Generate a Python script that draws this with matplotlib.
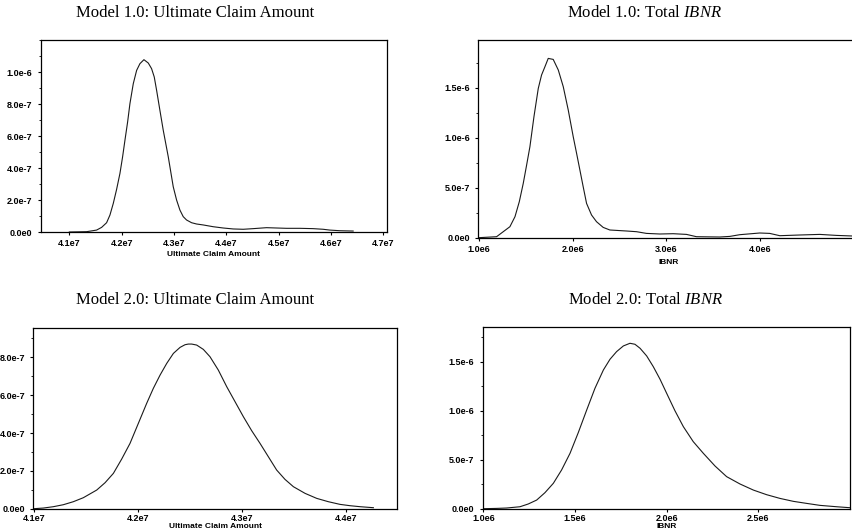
import matplotlib
matplotlib.use("Agg")
import matplotlib.pyplot as plt
from matplotlib.font_manager import FontProperties
from matplotlib.ticker import FuncFormatter, AutoMinorLocator
import math

plt.rcParams["mathtext.fontset"] = "custom"
plt.rcParams["mathtext.rm"] = "Liberation Serif"
plt.rcParams["mathtext.it"] = "Liberation Serif:italic"

# x in units of 1e6, y in units of 1e-6 (density)
# Model 1.0: Ultimate Claim Amount
m1_ult_x = [41.000, 41.331, 41.522, 41.618, 41.713, 41.777, 41.841, 41.904, 41.968, 42.019,
            42.064, 42.115, 42.159, 42.223, 42.287, 42.350, 42.427, 42.510, 42.573, 42.624,
            42.669, 42.732, 42.796, 42.892, 42.987, 43.051, 43.115, 43.178, 43.242, 43.338,
            43.433, 43.561, 43.752, 43.943, 44.134, 44.325, 44.516, 44.771, 44.962, 45.153,
            45.408, 45.662, 45.854, 45.981, 46.172, 46.427]
m1_ult_y = [0.0, 0.002, 0.012, 0.029, 0.058, 0.106, 0.179, 0.266, 0.366, 0.470,
            0.574, 0.688, 0.802, 0.927, 1.010, 1.052, 1.077, 1.056, 1.021, 0.969,
            0.886, 0.761, 0.636, 0.470, 0.283, 0.200, 0.137, 0.096, 0.075, 0.058,
            0.050, 0.044, 0.033, 0.025, 0.019, 0.017, 0.021, 0.027, 0.025, 0.023,
            0.023, 0.021, 0.017, 0.012, 0.008, 0.006]

# Model 1.0: Total IBNR
m1_ibnr_x = [1.000, 1.191, 1.262, 1.333, 1.387, 1.433, 1.475, 1.511, 1.546, 1.589,
             1.635, 1.670, 1.706, 1.741, 1.794, 1.848, 1.901, 1.954, 2.007, 2.043,
             2.078, 2.113, 2.149, 2.202, 2.255, 2.326, 2.397, 2.574, 2.681, 2.787,
             2.929, 3.071, 3.213, 3.319, 3.567, 3.674, 3.780, 3.993, 4.099, 4.206,
             4.418, 4.631, 4.809, 4.982, 5.060]
m1_ibnr_y = [0.0, 0.010, 0.060, 0.110, 0.210, 0.360, 0.543, 0.727, 0.910, 1.210,
             1.493, 1.627, 1.710, 1.793, 1.783, 1.677, 1.510, 1.277, 1.010, 0.843,
             0.677, 0.510, 0.343, 0.227, 0.160, 0.103, 0.077, 0.067, 0.060, 0.043,
             0.037, 0.040, 0.033, 0.010, 0.007, 0.013, 0.030, 0.047, 0.043, 0.020,
             0.027, 0.033, 0.023, 0.017, 0.016]

# Model 2.0: Ultimate Claim Amount
m2_ult_x = [41.000, 41.090, 41.186, 41.282, 41.378, 41.474, 41.603, 41.683, 41.763, 41.843,
            41.923, 42.003, 42.083, 42.147, 42.212, 42.276, 42.340, 42.404, 42.452, 42.484,
            42.516, 42.564, 42.628, 42.692, 42.772, 42.853, 42.933, 43.013, 43.093, 43.173,
            43.253, 43.333, 43.413, 43.494, 43.606, 43.718, 43.830, 43.942, 44.038, 44.135,
            44.263]
m2_ult_y = [0.0, 0.0035, 0.0106, 0.0211, 0.0370, 0.0581, 0.0987, 0.1374, 0.1868, 0.2626,
            0.3454, 0.4511, 0.5568, 0.6361, 0.7066, 0.7683, 0.8211, 0.8529, 0.8670, 0.8705,
            0.8705, 0.8652, 0.8423, 0.8035, 0.7330, 0.6449, 0.5656, 0.4863, 0.4123, 0.3454,
            0.2749, 0.2044, 0.1551, 0.1163, 0.0811, 0.0546, 0.0370, 0.0229, 0.0159, 0.0106,
            0.0053]

# Model 2.0: Total IBNR
m2_ibnr_x = [1.000, 1.073, 1.127, 1.200, 1.245, 1.291, 1.336, 1.382, 1.427, 1.473,
             1.518, 1.564, 1.609, 1.655, 1.691, 1.727, 1.764, 1.800, 1.827, 1.855,
             1.891, 1.927, 1.964, 2.000, 2.045, 2.091, 2.145, 2.200, 2.264, 2.327,
             2.400, 2.473, 2.545, 2.618, 2.691, 2.764, 2.836, 2.927, 3.000]
m2_ibnr_y = [0.0, 0.003, 0.007, 0.020, 0.048, 0.088, 0.163, 0.259, 0.395, 0.565,
             0.776, 1.007, 1.228, 1.415, 1.524, 1.602, 1.660, 1.687, 1.677, 1.636,
             1.558, 1.449, 1.320, 1.177, 1.000, 0.837, 0.684, 0.565, 0.435, 0.327,
             0.252, 0.190, 0.143, 0.105, 0.075, 0.054, 0.034, 0.020, 0.010]

# ticks (real units)
m1_ult_xticks = [4.1e7, 4.2e7, 4.3e7, 4.4e7, 4.5e7, 4.6e7, 4.7e7]
m1_ult_yticks = [0.0, 2e-7, 4e-7, 6e-7, 8e-7, 1e-6]
m1_ibnr_xticks = [1e6, 2e6, 3e6, 4e6]
m1_ibnr_yticks = [0.0, 5e-7, 1e-6, 1.5e-6]
m2_ult_xticks = [4.1e7, 4.2e7, 4.3e7, 4.4e7]
m2_ult_yticks = [0.0, 2e-7, 4e-7, 6e-7, 8e-7]
m2_ibnr_xticks = [1e6, 1.5e6, 2e6, 2.5e6]
m2_ibnr_yticks = [0.0, 5e-7, 1e-6, 1.5e-6]


def sci(v, pos=None):
    if v == 0:
        return "0.0e0"
    e = int(math.floor(math.log10(abs(v)) + 1e-9))
    return f"{v / 10**e:.1f}e{e}"


W, H = 853, 531
fig = plt.figure(figsize=(W / 100, H / 100), dpi=100)

TICKFONT = dict(family="Liberation Sans", size=6.5, weight="bold")
LABELFONT = dict(family="Liberation Sans", size=6, weight="bold")


def panel(rect, x, y, xlim, ylim, xticks, yticks, xlabel, xpad, labelpad):
    l, b, r, t = rect
    ax = fig.add_axes([l / W, 1 - b / H, (r - l) / W, (b - t) / H])
    ax.plot([v * 1e6 for v in x], [v * 1e-6 for v in y], color="#1a1a1a", lw=0.8)
    ax.set_xlim(*xlim)
    ax.set_ylim(*ylim)
    ax.set_xticks(xticks)
    ax.set_yticks(yticks)
    ax.xaxis.set_major_formatter(FuncFormatter(sci))
    ax.yaxis.set_major_formatter(FuncFormatter(sci))
    ax.yaxis.set_minor_locator(AutoMinorLocator(2))
    ax.tick_params(direction="out", length=2.5, width=0.8)
    ax.tick_params(axis="x", pad=xpad)
    ax.tick_params(axis="y", pad=3.5)
    ax.tick_params(which="minor", length=1.5, width=0.6)
    fp = FontProperties(**TICKFONT)
    for lab in ax.get_xticklabels() + ax.get_yticklabels():
        lab.set_fontproperties(fp)
    for s in ax.spines.values():
        s.set_linewidth(0.9)
    ax.set_xlabel(xlabel, fontdict=LABELFONT, labelpad=labelpad)
    return ax


panel((40.7, 232, 387.3, 40), m1_ult_x, m1_ult_y, (4.0453e7, 4.708e7), (0, 1.2e-6),
      m1_ult_xticks, m1_ult_yticks, "Ultimate Claim Amount", 2.5, 2)
panel((478.3, 237.7, 860, 40), m1_ibnr_x, m1_ibnr_y, (0.9965e6, 5.06e6), (0, 1.977e-6),
      m1_ibnr_xticks, m1_ibnr_yticks, "IBNR", 2.5, 4)
panel((33.3, 508.7, 397.3, 327.7), m2_ult_x, m2_ult_y, (4.0993e7, 4.4493e7), (0, 9.57e-7),
      m2_ult_xticks, m2_ult_yticks, "Ultimate Claim Amount", 1.2, 0.3)
panel((482.7, 508.7, 850, 327.3), m2_ibnr_x, m2_ibnr_y, (0.9967e6, 3.0e6), (0, 1.85e-6),
      m2_ibnr_xticks, m2_ibnr_yticks, "IBNR", 1.2, 0.3)

TITLE = dict(family="Liberation Serif", size=12, ha="center", va="center")
fig.text(195 / W, 1 - 13 / H, "Model 1.0: Ultimate Claim Amount", **TITLE)
fig.text(645 / W, 1 - 13 / H, "Model 1.0: Total $\\mathit{IBNR}$", **TITLE)
fig.text(195 / W, 1 - 300 / H, "Model 2.0: Ultimate Claim Amount", **TITLE)
fig.text(646 / W, 1 - 300 / H, "Model 2.0: Total $\\mathit{IBNR}$", **TITLE)

fig.savefig("out.png", dpi=100, facecolor="white")
